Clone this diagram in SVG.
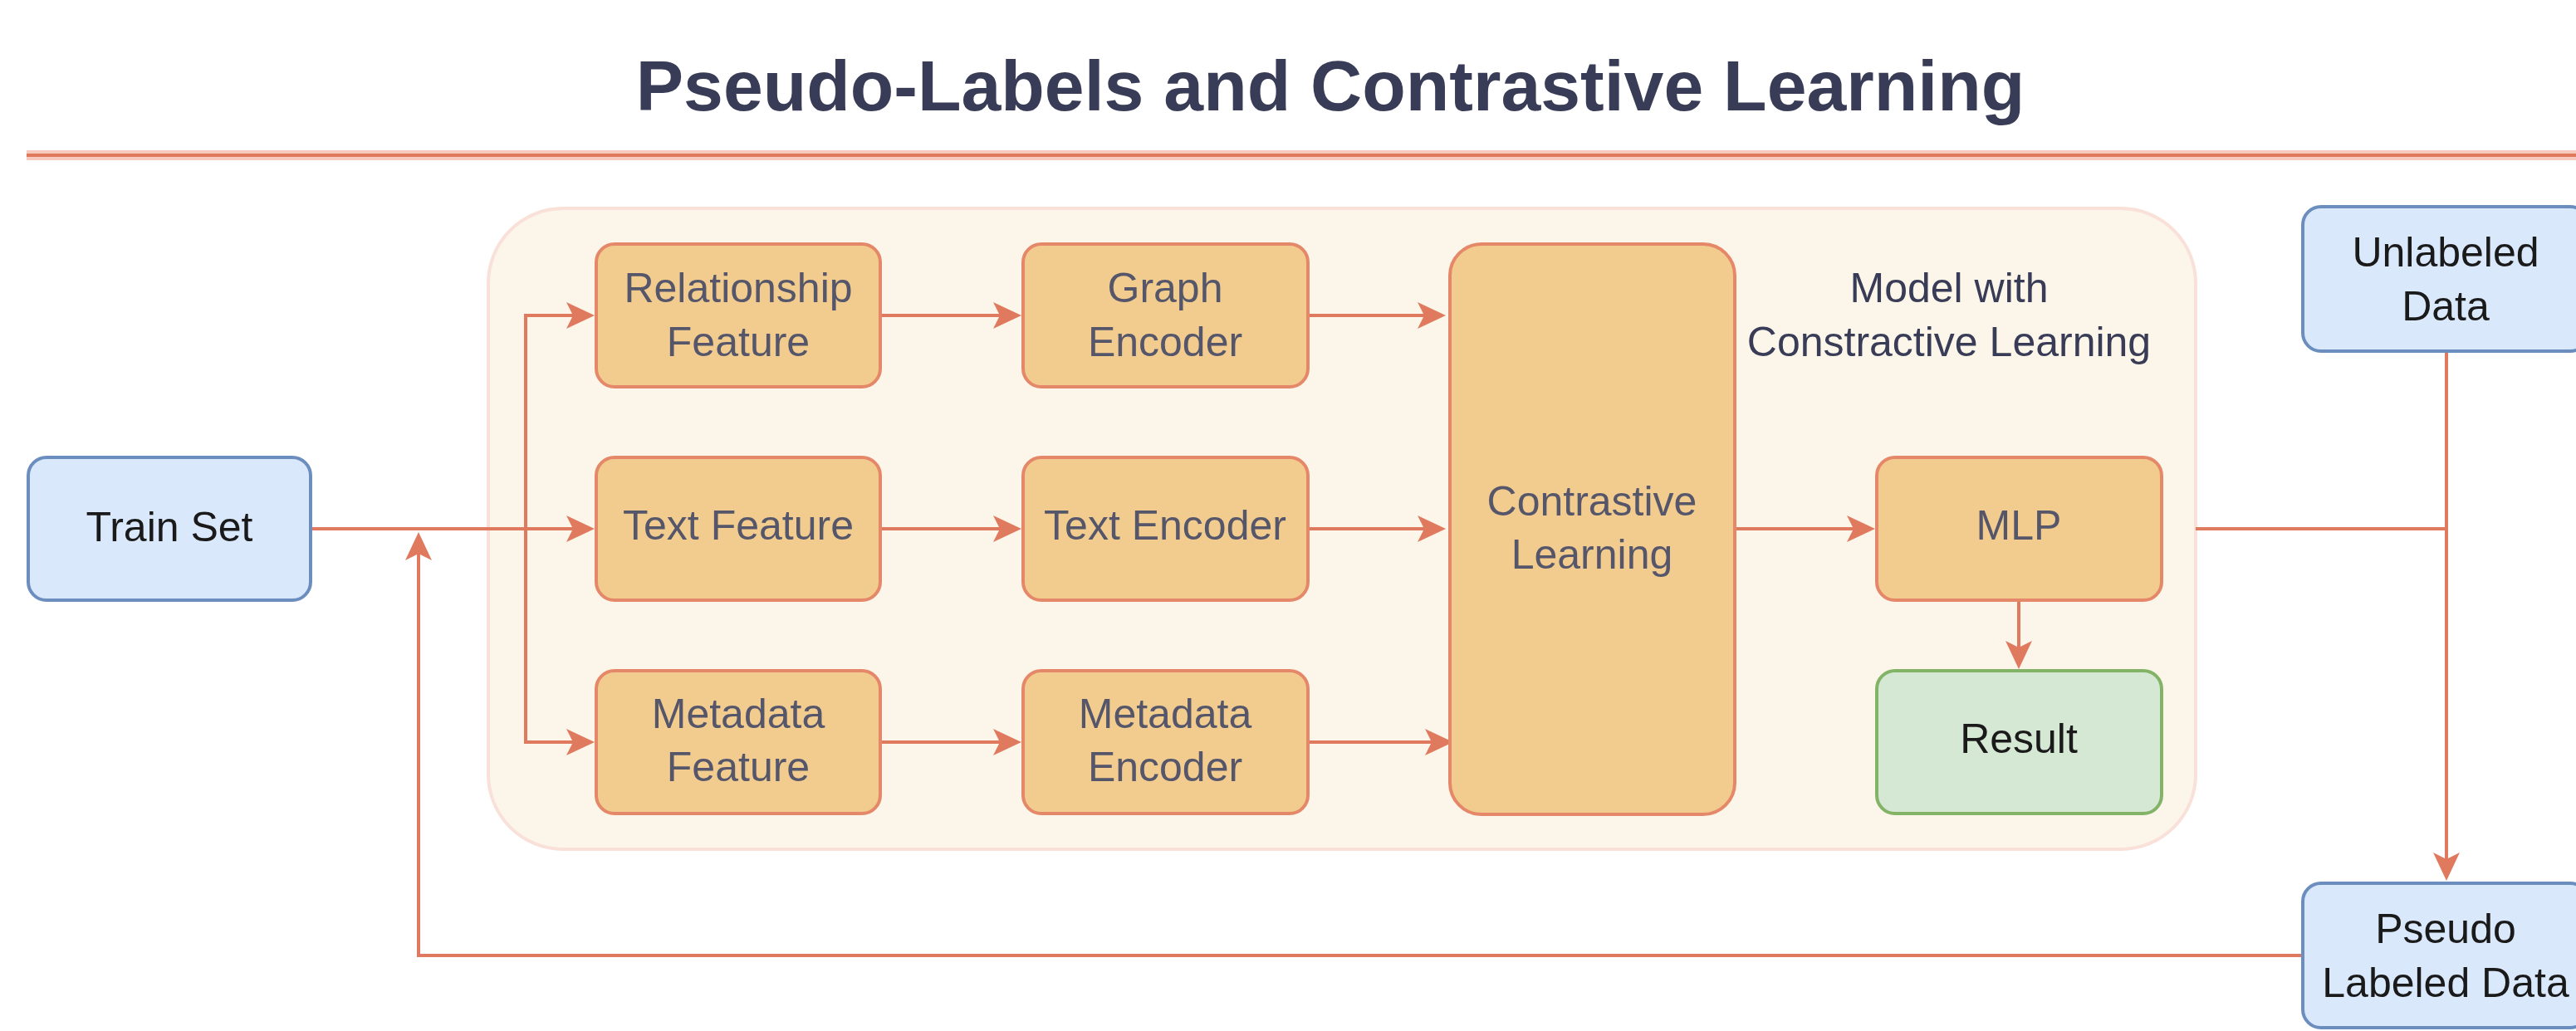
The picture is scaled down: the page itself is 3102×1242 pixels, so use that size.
<svg xmlns="http://www.w3.org/2000/svg" width="3102" height="1242" viewBox="0 0 3102 1242">
<style>
  .t { font-family: "Liberation Sans", Arial, sans-serif; font-size: 50px; text-anchor: middle; }
  .title { font-family: "Liberation Sans", Arial, sans-serif; font-size: 86px; font-weight: bold; fill: #393C56; text-anchor: middle; }
  .orange { fill: #F2CC8F; stroke: #E58869; stroke-width: 4; }
  .blue { fill: #dae8fc; stroke: #6c8ebf; stroke-width: 4; }
  .green { fill: #d5e8d4; stroke: #82b366; stroke-width: 4; }
  .ot { fill: #55566a; }
  .bt { fill: #1a1a1a; }
  .conn path, .conn line { fill: none; stroke: #E07A5F; stroke-width: 4; }
</style>
<defs>
  <marker id="arr" markerUnits="userSpaceOnUse" viewBox="-2 -18 38 36" markerWidth="38" markerHeight="36" refX="24" refY="0" orient="auto">
    <path d="M0,-16 L34,0 L0,16 L8,0 Z" fill="#E07A5F"/>
  </marker>
</defs>
<rect width="3102" height="1242" fill="#ffffff"/>

<g id="title">
  <text class="title" x="1602" y="133">Pseudo-Labels and Contrastive Learning</text>
  <line x1="32" y1="187" x2="3102" y2="187" stroke="#f6cbbd" stroke-width="12"/>
  <line x1="32" y1="187" x2="3102" y2="187" stroke="#E07A5F" stroke-width="4"/>
</g>

<g id="container">
  <rect x="588" y="251" width="2056" height="772" rx="90" fill="#fcf5e9" stroke="#f9e0d8" stroke-width="4"/>
  <text class="t" x="2347" y="364" fill="#393C56">Model with</text>
  <text class="t" x="2347" y="429" fill="#393C56">Constractive Learning</text>
</g>

<g class="conn" id="connectors">
  <line x1="375" y1="637" x2="706" y2="637" marker-end="url(#arr)"/>
  <path d="M633,637 V380 H706" marker-end="url(#arr)"/>
  <path d="M633,637 V894 H706" marker-end="url(#arr)"/>
  <line x1="1060" y1="380" x2="1220" y2="380" marker-end="url(#arr)"/>
  <line x1="1060" y1="637" x2="1220" y2="637" marker-end="url(#arr)"/>
  <line x1="1060" y1="894" x2="1220" y2="894" marker-end="url(#arr)"/>
  <line x1="1575" y1="380" x2="1731" y2="380" marker-end="url(#arr)"/>
  <line x1="1575" y1="637" x2="1731" y2="637" marker-end="url(#arr)"/>
  <line x1="1575" y1="894" x2="1740" y2="894" marker-end="url(#arr)"/>
  <line x1="2089" y1="637" x2="2248" y2="637" marker-end="url(#arr)"/>
  <line x1="2431" y1="724" x2="2431" y2="796" marker-end="url(#arr)"/>
  <line x1="2644" y1="637" x2="2946" y2="637"/>
  <line x1="2946" y1="423" x2="2946" y2="1051" marker-end="url(#arr)"/>
  <path d="M2773,1151 H504 V651" marker-end="url(#arr)"/>
</g>

<g id="train-set">
  <rect class="blue" x="34" y="551" width="340" height="172" rx="22"/>
  <text class="t bt" x="204" y="652">Train Set</text>
</g>

<g id="relationship-feature">
  <rect class="orange" x="718" y="294" width="342" height="172" rx="22"/>
  <text class="t ot" x="889" y="364">Relationship</text>
  <text class="t ot" x="889" y="429">Feature</text>
</g>
<g id="text-feature">
  <rect class="orange" x="718" y="551" width="342" height="172" rx="22"/>
  <text class="t ot" x="889" y="650">Text Feature</text>
</g>
<g id="metadata-feature">
  <rect class="orange" x="718" y="808" width="342" height="172" rx="22"/>
  <text class="t ot" x="889" y="877">Metadata</text>
  <text class="t ot" x="889" y="941">Feature</text>
</g>

<g id="graph-encoder">
  <rect class="orange" x="1232" y="294" width="343" height="172" rx="22"/>
  <text class="t ot" x="1403" y="364">Graph</text>
  <text class="t ot" x="1403" y="429">Encoder</text>
</g>
<g id="text-encoder">
  <rect class="orange" x="1232" y="551" width="343" height="172" rx="22"/>
  <text class="t ot" x="1403" y="650">Text Encoder</text>
</g>
<g id="metadata-encoder">
  <rect class="orange" x="1232" y="808" width="343" height="172" rx="22"/>
  <text class="t ot" x="1403" y="877">Metadata</text>
  <text class="t ot" x="1403" y="941">Encoder</text>
</g>

<g id="contrastive-learning">
  <rect class="orange" x="1746" y="294" width="343" height="687" rx="38"/>
  <text class="t ot" x="1917" y="621">Contrastive</text>
  <text class="t ot" x="1917" y="685">Learning</text>
</g>

<g id="mlp">
  <rect class="orange" x="2260" y="551" width="343" height="172" rx="22"/>
  <text class="t ot" x="2431" y="650">MLP</text>
</g>
<g id="result">
  <rect class="green" x="2260" y="808" width="343" height="172" rx="22"/>
  <text class="t bt" x="2431" y="907">Result</text>
</g>

<g id="unlabeled-data">
  <rect class="blue" x="2773" y="249" width="344" height="174" rx="22"/>
  <text class="t bt" x="2945" y="321">Unlabeled</text>
  <text class="t bt" x="2945" y="386">Data</text>
</g>
<g id="pseudo-labeled-data">
  <rect class="blue" x="2773" y="1064" width="344" height="174" rx="22"/>
  <text class="t bt" x="2945" y="1136">Pseudo</text>
  <text class="t bt" x="2945" y="1201">Labeled Data</text>
</g>
</svg>
